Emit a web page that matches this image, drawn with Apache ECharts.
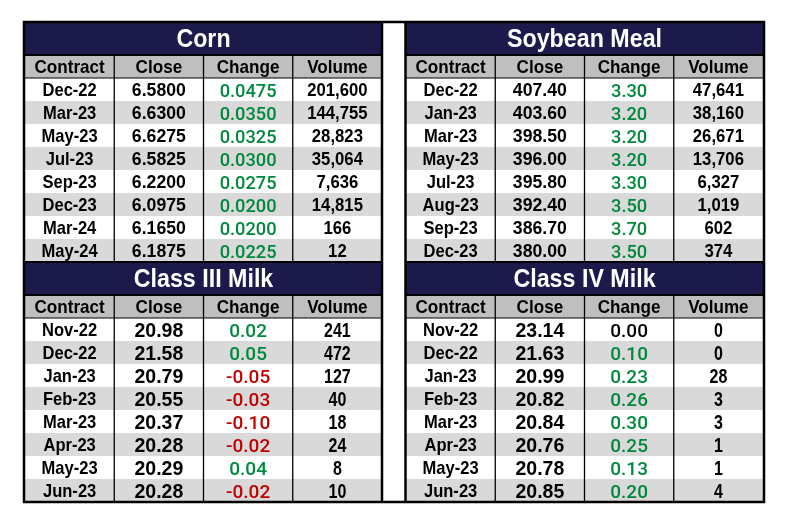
<!DOCTYPE html>
<html lang="en">
  <head>
    <meta charset="UTF-8" />
    <title>Futures</title>
    <script src="https://cdn.jsdelivr.net/npm/echarts@6/dist/echarts.min.js"></script>
    <style>
      html, body { margin: 0; padding: 0; background: #fff; }
      #main { width: 789px; height: 527px; }
    </style>
  </head>
  <body>
    <div id="main"></div>
    <script>
      // column headers
      var columns = ["Contract", "Close", "Change", "Volume"];

      // Corn
      var cornContracts = ["Dec-22", "Mar-23", "May-23", "Jul-23", "Sep-23", "Dec-23", "Mar-24", "May-24"];
      var cornClose = [6.58, 6.63, 6.6275, 6.5825, 6.22, 6.0975, 6.165, 6.1875];
      var cornChange = [0.0475, 0.035, 0.0325, 0.03, 0.0275, 0.02, 0.02, 0.0225];
      var cornVolume = [201600, 144755, 28823, 35064, 7636, 14815, 166, 12];

      // Soybean Meal
      var soyContracts = ["Dec-22", "Jan-23", "Mar-23", "May-23", "Jul-23", "Aug-23", "Sep-23", "Dec-23"];
      var soyClose = [407.4, 403.6, 398.5, 396.0, 395.8, 392.4, 386.7, 380.0];
      var soyChange = [3.3, 3.2, 3.2, 3.2, 3.3, 3.5, 3.7, 3.5];
      var soyVolume = [47641, 38160, 26671, 13706, 6327, 1019, 602, 374];

      // Class III Milk
      var milk3Contracts = ["Nov-22", "Dec-22", "Jan-23", "Feb-23", "Mar-23", "Apr-23", "May-23", "Jun-23"];
      var milk3Close = [20.98, 21.58, 20.79, 20.55, 20.37, 20.28, 20.29, 20.28];
      var milk3Change = [0.02, 0.05, -0.05, -0.03, -0.1, -0.02, 0.04, -0.02];
      var milk3Volume = [241, 472, 127, 40, 18, 24, 8, 10];

      // Class IV Milk
      var milk4Contracts = ["Nov-22", "Dec-22", "Jan-23", "Feb-23", "Mar-23", "Apr-23", "May-23", "Jun-23"];
      var milk4Close = [23.14, 21.63, 20.99, 20.82, 20.84, 20.76, 20.78, 20.85];
      var milk4Change = [0.0, 0.1, 0.23, 0.26, 0.3, 0.25, 0.13, 0.2];
      var milk4Volume = [0, 0, 28, 3, 3, 1, 1, 4];

      var tables = [
        { grid: 0, block: 0, title: "Corn", digits: 4, milk: false,
          contracts: cornContracts, close: cornClose, change: cornChange, volume: cornVolume },
        { grid: 0, block: 1, title: "Class III Milk", digits: 2, milk: true,
          contracts: milk3Contracts, close: milk3Close, change: milk3Change, volume: milk3Volume },
        { grid: 1, block: 0, title: "Soybean Meal", digits: 2, milk: false,
          contracts: soyContracts, close: soyClose, change: soyChange, volume: soyVolume },
        { grid: 1, block: 1, title: "Class IV Milk", digits: 2, milk: true,
          contracts: milk4Contracts, close: milk4Close, change: milk4Change, volume: milk4Volume },
      ];

      // layout (px in grid units)
      var FONT = '"Liberation Sans", Arial, sans-serif';
      var MED = 'Roboto, "Liberation Sans", sans-serif';
      var NAVY = "#1b1a4b", HEAD = "#bfbfbf", ALT = "#d9d9d9";
      var GREEN = "#00883c", RED = "#c00000";
      var TITLE_H = 33, HEAD_H = 23, ROW_H = 23, BLOCK_H = TITLE_H + HEAD_H + 8 * ROW_H;
      var TOP = 22, PANEL_W = 357, PANEL_H = 2 * BLOCK_H;
      var panelLeft = [25, 406];

      function fmtVol(v) {
        return v.toLocaleString("en-US");
      }
      function changeColor(v) {
        return v > 0 ? GREEN : v < 0 ? RED : "#000";
      }

      // build cells and lines per grid
      var cells = [[], []], metas = [[], []], lines = [[], []];
      tables.forEach(function (t) {
        var g = t.grid, y0 = t.block * BLOCK_H;
        cells[g].push([0, y0, 4, y0 + TITLE_H]);
        metas[g].push({ text: t.title, fill: NAVY, color: "#fff", size: 25, weight: "bold", sx: 0.93, dy: 1 });
        var hy = y0 + TITLE_H;
        columns.forEach(function (c, ci) {
          cells[g].push([ci, hy, ci + 1, hy + HEAD_H]);
          metas[g].push({ text: c, fill: HEAD, color: "#000", size: 19, weight: "bold", sx: 0.9 });
        });
        t.contracts.forEach(function (name, ri) {
          var ry = hy + HEAD_H + ri * ROW_H;
          var fill = ri % 2 ? ALT : "#fff";
          var vals = [
            { text: name, color: "#000", size: 19, weight: "bold", sx: 0.87 },
            t.milk
              ? { text: t.close[ri].toFixed(t.digits), color: "#000", size: 21, weight: "bold", sx: 0.93 }
              : { text: t.close[ri].toFixed(t.digits), color: "#000", size: 19, weight: "bold", sx: 0.93 },
            {
              text: t.change[ri].toFixed(t.digits), color: changeColor(t.change[ri]),
              size: 19, weight: 500, sx: t.milk ? 1.0 : 0.96, font: MED, dy: 2,
            },
            { text: fmtVol(t.volume[ri]), color: "#000", size: t.milk ? 20 : 19, weight: "bold",
              sx: t.milk ? 0.8 : 0.88 },
          ];
          vals.forEach(function (v, ci) {
            cells[g].push([ci, ry, ci + 1, ry + ROW_H]);
            v.fill = fill;
            metas[g].push(v);
          });
        });
        // horizontal rules
        lines[g].push([0, hy, 4, hy, 2]);
        lines[g].push([0, hy + HEAD_H, 4, hy + HEAD_H, 1.2]);
        lines[g].push([0, y0 + BLOCK_H, 4, y0 + BLOCK_H, 2]);
        // column dividers
        for (var k = 1; k < 4; k++) {
          lines[g].push([k, hy, k, y0 + BLOCK_H, 1.3]);
        }
      });

      function cellRenderer(meta) {
        return function (params, api) {
          var m = meta[params.dataIndex];
          var a = api.coord([api.value(0), api.value(1)]);
          var b = api.coord([api.value(2), api.value(3)]);
          var w = b[0] - a[0], h = b[1] - a[1];
          return {
            type: "group",
            children: [
              { type: "rect", shape: { x: a[0], y: a[1], width: w, height: h }, style: { fill: m.fill } },
              {
                type: "text",
                x: a[0] + w / 2,
                y: Math.round(a[1] + h / 2 + (m.dy || 1)),
                scaleX: m.sx,
                style: {
                  text: m.text, x: 0, y: 0,
                  align: "center", verticalAlign: "middle",
                  fill: m.color, fontSize: m.size, fontWeight: m.weight, fontFamily: m.font || FONT,
                },
              },
            ],
          };
        };
      }

      function lineRenderer(params, api) {
        var a = api.coord([api.value(0), api.value(1)]);
        var b = api.coord([api.value(2), api.value(3)]);
        return {
          type: "line",
          shape: { x1: a[0], y1: a[1], x2: b[0], y2: b[1] },
          style: { stroke: "#000", lineWidth: api.value(4) },
        };
      }

      var grids = [], xAxes = [], yAxes = [], series = [];
      [0, 1].forEach(function (g) {
        grids.push({ left: panelLeft[g], top: TOP, width: PANEL_W, height: PANEL_H });
        xAxes.push({ gridIndex: g, type: "value", min: 0, max: 4, show: false });
        yAxes.push({ gridIndex: g, type: "value", min: 0, max: PANEL_H, inverse: true, show: false });
        series.push({
          type: "custom", xAxisIndex: g, yAxisIndex: g, silent: true, clip: false,
          renderItem: cellRenderer(metas[g]), data: cells[g], animation: false,
        });
        series.push({
          type: "custom", xAxisIndex: g, yAxisIndex: g, silent: true, clip: false, z: 3,
          renderItem: lineRenderer, data: lines[g], animation: false,
        });
      });

      var chart = echarts.init(document.getElementById("main"));
      chart.setOption({
        animation: false,
        grid: grids,
        xAxis: xAxes,
        yAxis: yAxes,
        series: series,
        graphic: [
          {
            type: "rect", z: 10, silent: true,
            shape: { x: 24, y: TOP, width: 764 - 24, height: PANEL_H },
            style: { fill: null, stroke: "#000", lineWidth: 2.5 },
          },
          {
            type: "line", z: 10, silent: true,
            shape: { x1: 382, y1: TOP, x2: 382, y2: TOP + PANEL_H },
            style: { stroke: "#000", lineWidth: 2.5 },
          },
          {
            type: "line", z: 10, silent: true,
            shape: { x1: 405.5, y1: TOP, x2: 405.5, y2: TOP + PANEL_H },
            style: { stroke: "#000", lineWidth: 2.5 },
          },
        ],
      });
    </script>
  </body>
</html>
